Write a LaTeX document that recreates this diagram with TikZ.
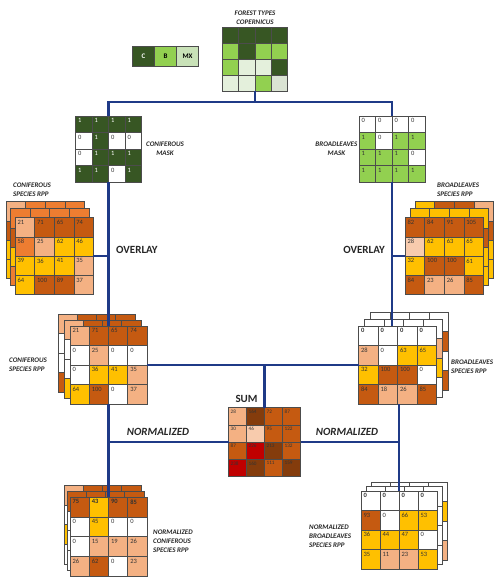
\documentclass[tikz,border=0pt]{standalone}
\usepackage{fontspec}
\setmainfont{Carlito}
\usepackage{tikz}
\usetikzlibrary{positioning, calc}
\definecolor{cg}{HTML}{375623}
\definecolor{bg}{HTML}{92D050}
\definecolor{mx}{HTML}{C9E2B8}
\definecolor{px}{HTML}{E4F0DC}
\definecolor{pq}{HTML}{DAE3D3}
\definecolor{or}{HTML}{C55A11}
\definecolor{oo}{HTML}{ED7D31}
\definecolor{sa}{HTML}{F4B183}
\definecolor{ps}{HTML}{F8CBAD}
\definecolor{ye}{HTML}{FFC000}
\definecolor{br}{HTML}{843C0C}
\definecolor{rd}{HTML}{C00000}
\definecolor{wh}{HTML}{FFFFFF}
\definecolor{linkblue}{HTML}{1F3A87}
\tikzset{every picture/.style={font=\fontsize{7}{9}\selectfont}}

\newcommand{\wt}[1]{\textcolor{white}{#1}}
% one layer of coloured cells, no numbers
\newcommand{\backlayer}[5]{%
  \foreach [count=\k from 0] \cf in {#5} {
    \pgfmathsetmacro\cx{#1+mod(\k,4)*#3}
    \pgfmathsetmacro\cy{#2+int(\k/4)*#4}
    \draw[cellline, fill=\cf] (\cx,\cy) rectangle ++(#3,#4);
  }
}
% front grid: name, left, top, cell w, cell h, number style, fill/value list
\newcommand{\cellgrid}[7]{%
  \foreach [count=\k from 0] \cf/\cv in {#7} {
    \pgfmathsetmacro\cx{#2+mod(\k,4)*#4}
    \pgfmathsetmacro\cy{#3+int(\k/4)*#5}
    \draw[cellline, fill=\cf] (\cx,\cy) rectangle ++(#4,#5);
    \node[#6] (#1-\k) at (\cx,\cy) {\cv};
  }
  \pgfmathsetmacro\gw{4*#4}
  \pgfmathsetmacro\gh{4*#5}
  \pgfmathsetmacro\gx{#2+2*#4}
  \pgfmathsetmacro\gy{#3+2*#5}
  \node[gridbox, minimum width=\gw pt, minimum height=\gh pt] (#1) at (\gx,\gy) {};
}

\begin{document}
\begin{tikzpicture}[x=1pt, y=-1pt,
  cellline/.style={draw=black!70, line width=0.6pt},
  num/.style={anchor=north west, inner sep=2.4pt, font=\fontsize{6.5}{7}\selectfont, text=black!80},
  snum/.style={num, inner sep=2pt, font=\fontsize{5.2}{6}\selectfont},
  gridbox/.style={rectangle, inner sep=0pt, outer sep=0pt},
  lbl/.style={font=\fontsize{7}{9}\selectfont\bfseries\itshape, align=left, inner sep=0pt, text=black!85},
  head/.style={font=\fontsize{11}{12}\selectfont\bfseries, inner sep=0pt, text=black!85},
  legbox/.style={draw=black!70, line width=0.6pt, minimum width=22pt, minimum height=20pt, inner sep=0pt, outer sep=0pt, font=\fontsize{7}{8}\selectfont\bfseries},
  link/.style={draw=linkblue, line width=2.2pt}
]
\useasboundingbox (0,0) rectangle (500,582);

% Forest types
\backlayer{222.5}{27}{16.25}{16}{cg,cg,cg,cg, bg,cg,bg,bg, bg,px,px,cg, px,px,bg,pq}
\node[gridbox, minimum width=65pt, minimum height=64pt] (forest) at (255,59) {};
\node[lbl, align=center, above=2pt of forest] (forestlbl) {FOREST TYPES\\COPERNICUS};

% Legend
\node[legbox, fill=cg, text=white] (legc) at (143.5,56) {C};
\node[legbox, fill=bg, right=0pt of legc] (legb) {B};
\node[legbox, fill=mx, right=0pt of legb] (legmx) {MX};

% Masks
\cellgrid{cmask}{75.5}{116}{16.5}{16.5}{num}{cg/\wt{1}, cg/\wt{1}, cg/\wt{1}, cg/\wt{1},
  wh/0, cg/\wt{1}, wh/0, wh/0,
  wh/0, cg/\wt{1}, cg/\wt{1}, cg/\wt{1},
  cg/\wt{1}, cg/\wt{1}, wh/0, cg/\wt{1}}
\node[lbl, align=center, right=4.5pt of cmask] (cmasklbl) {CONIFEROUS\\MASK};

\cellgrid{bmask}{359}{116}{16.5}{16.5}{num}{wh/0, wh/0, wh/0, wh/0,
  bg/1, wh/0, bg/1, bg/1,
  bg/1, bg/1, bg/1, wh/0,
  bg/1, bg/1, bg/1, bg/1}
\node[lbl, align=center, left=1.5pt of bmask] (bmasklbl) {BROADLEAVES\\MASK};

% Species RPP
\backlayer{15-9}{217.5-16}{19.6}{19.3}{sa,oo,oo,oo, or,or,or,or, ye,ye,ye,ye, ye,ye,ye,ye}
\backlayer{15-4.5}{217.5-9}{19.6}{19.3}{oo,oo,oo,oo, or,or,or,or, ye,ye,ye,ye, oo,ye,ye,ye}
\cellgrid{crpp}{15}{217.5}{19.6}{19.3}{num}{sa/21, or/71, or/65, or/74,
  oo/58, sa/25, ye/62, ye/46,
  ye/39, ye/36, ye/41, sa/35,
  ye/64, or/100, or/89, sa/37}
\node[lbl, anchor=west] (crpplbl) at (13,190) {CONIFEROUS\\SPECIES RPP};

\backlayer{405+10}{217.5-16}{19.6}{19.3}{ye,or,or,sa, or,or,or,or, ye,ye,ye,ye, ye,ye,ye,ye}
\backlayer{405+5}{217.5-9}{19.6}{19.3}{ye,ye,ye,ye, or,or,or,or, ye,ye,ye,ye, ye,ye,ye,ye}
\cellgrid{brpp}{405}{217.5}{19.6}{19.3}{num}{or/82, or/84, or/91, or/105,
  ps/28, ye/62, ye/63, ye/65,
  ye/32, or/100, or/100, ye/61,
  or/84, sa/23, sa/26, or/85}
\node[lbl, anchor=west] (brpplbl) at (437,190) {BROADLEAVES\\SPECIES RPP};

\node[head, anchor=west] (covl) at (116,250) {OVERLAY};
\node[head, anchor=east] (bovl) at (385,250) {OVERLAY};

% Masked RPP
\backlayer{70.1-12}{326-12}{19.2}{19.5}{sa,or,or,or, wh,wh,wh,wh, wh,wh,wh,wh, or,or,or,or}
\backlayer{70.1-6}{326-6}{19.2}{19.5}{sa,or,or,or, wh,wh,wh,wh, wh,wh,wh,wh, ye,ye,ye,ye}
\cellgrid{cmid}{70.1}{326}{19.2}{19.5}{num}{sa/21, or/71, or/65, or/74,
  wh/0, sa/25, wh/0, wh/0,
  wh/0, ye/36, ye/41, sa/35,
  ye/64, or/100, wh/0, sa/37}
\node[lbl, anchor=west] (cmidlbl) at (9,365) {CONIFEROUS\\SPECIES RPP};

\backlayer{358.5+12}{326-14}{19.5}{19.5}{wh,wh,wh,wh, wh,wh,wh,or, wh,wh,wh,wh, wh,wh,wh,or}
\backlayer{358.5+6}{326-7}{19.5}{19.5}{wh,wh,wh,wh, wh,wh,wh,sa, wh,wh,wh,ye, wh,wh,wh,wh}
\cellgrid{bmid}{358.5}{326}{19.5}{19.5}{num}{wh/\textbf{0}, wh/\textbf{0}, wh/\textbf{0}, wh/\textbf{0},
  sa/28, wh/0, ye/63, ye/65,
  ye/32, or/100, or/100, wh/0,
  or/84, sa/18, sa/26, or/85}
\node[lbl, anchor=west] (bmidlbl) at (451,367) {BROADLEAVES\\SPECIES RPP};

% Sum
\cellgrid{sum}{228.5}{407.5}{18}{17.3}{snum}{sa/28, br/164, or/72, or/87,
  sa/30, ps/46, or/95, or/122,
  or/87, rd/226, br/213, or/132,
  rd/238, br/160, or/111, br/159}
\node[head] (sumlbl) at (246.5,399) {SUM};

\node[head, font=\fontsize{11}{12}\selectfont\bfseries\itshape] (cnl) at (158,432) {NORMALIZED};
\node[head, font=\fontsize{11}{12}\selectfont\bfseries\itshape] (bnl) at (347,432) {NORMALIZED};

% Normalized RPP
\backlayer{70.1-6}{497-12}{19.2}{19.8}{sa,or,or,or, wh,wh,wh,wh, ye,ye,ye,ye, wh,wh,wh,wh}
\backlayer{70.1-3}{497-6}{19.2}{19.8}{or,or,or,or, wh,wh,wh,wh, wh,wh,wh,wh, wh,wh,wh,wh}
\cellgrid{cnorm}{70.1}{497}{19.2}{19.8}{num}{or/\textbf{75}, ye/\textbf{43}, or/\textbf{90}, or/\textbf{85},
  wh/0, ye/45, wh/0, wh/0,
  wh/0, sa/15, sa/19, sa/26,
  sa/26, or/62, wh/0, sa/23}
\node[lbl, anchor=west] (cnormlbl) at (153,541) {NORMALIZED\\CONIFEROUS\\SPECIES RPP};

\backlayer{361+10}{491-9}{19}{19.5}{wh,wh,wh,wh, wh,wh,wh,ye, wh,wh,wh,wh, wh,wh,wh,sa}
\backlayer{361+5}{491-4.5}{19}{19.5}{wh,wh,wh,wh, wh,wh,wh,wh, wh,wh,wh,wh, wh,wh,wh,wh}
\cellgrid{bnorm}{361}{491}{19}{19.5}{num}{wh/\textbf{0}, wh/\textbf{0}, wh/\textbf{0}, wh/\textbf{0},
  or/93, wh/0, ye/66, ye/53,
  ye/36, ye/44, ye/47, wh/0,
  ye/35, sa/11, sa/23, ye/53}
\node[lbl, anchor=west] (bnormlbl) at (309,536) {NORMALIZED\\BROADLEAVES\\SPECIES RPP};

% Connectors
\coordinate (jtop) at (255,102);
\coordinate (jr) at (392,102);
\draw[link] (forest.south) -- (jtop);
\draw[link] (cmask.north) |- (jr) -- (bmask.north);
\draw[link] (cmask.south) -- (cmid.north);
\draw[link] (bmask.south) -- (bmask.south |- bmid.north);
\draw[link] (crpp.east) -- (crpp.east -| cmask.south);
\draw[link] (brpp.west) -- (brpp.west -| bmask.south);
\draw[link] (cmid.east) -- (bmid.west);
\draw[link] (sum.north |- cmid.east) -- (sum.north);
\draw[link] (cmid.south) -- (cnorm.north);
\draw[link] (sum.west) -- (sum.west -| cmid.south);
\draw[link] (sum.east) -- (sum.east -| bnorm.north);
\draw[link] (bnorm.north |- bmid.south) -- (bnorm.north);
\end{tikzpicture}
\end{document}
